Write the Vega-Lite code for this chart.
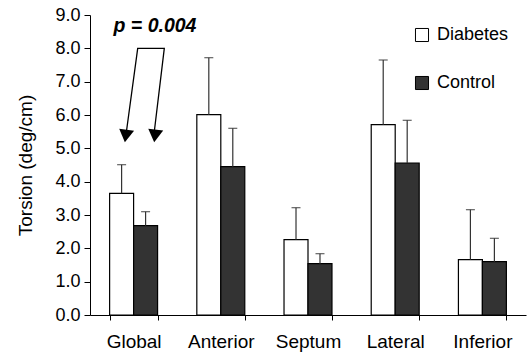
{
  "$schema": "https://vega.github.io/schema/vega-lite/v6.json",
  "width": 436,
  "height": 300,
  "autosize": "none",
  "padding": {"left": 90, "top": 15, "right": 1, "bottom": 41},
  "config": {
    "view": {"stroke": null},
    "font": "Liberation Sans",
    "axis": {"grid": false, "domainColor": "#000", "tickColor": "#000", "labelColor": "#000", "titleColor": "#000", "labelFont": "Liberation Sans", "titleFont": "Liberation Sans"},
    "axisY": {"title": "Torsion (deg/cm)", "titleFontSize": 19, "titleFontWeight": "normal", "titlePadding": 19, "values": [0,1,2,3,4,5,6,7,8,9], "format": ".1f", "labelFontSize": 18, "labelOverlap": false, "labelFlush": false, "labelBound": false, "tickSize": 6, "labelPadding": 4}
  },
  "datasets": {
    "bars": [
      {"region": "Global", "group": "Diabetes", "value": 3.65, "upper": 4.51},
      {"region": "Global", "group": "Control", "value": 2.68, "upper": 3.10},
      {"region": "Anterior", "group": "Diabetes", "value": 6.01, "upper": 7.72},
      {"region": "Anterior", "group": "Control", "value": 4.45, "upper": 5.60},
      {"region": "Septum", "group": "Diabetes", "value": 2.26, "upper": 3.22},
      {"region": "Septum", "group": "Control", "value": 1.54, "upper": 1.84},
      {"region": "Lateral", "group": "Diabetes", "value": 5.71, "upper": 7.65},
      {"region": "Lateral", "group": "Control", "value": 4.56, "upper": 5.84},
      {"region": "Inferior", "group": "Diabetes", "value": 1.66, "upper": 3.16},
      {"region": "Inferior", "group": "Control", "value": 1.60, "upper": 2.30}
    ],
    "bracket": [
      {"pos": 0.414, "level": 5.43, "order": 1},
      {"pos": 0.547, "level": 8.0, "order": 2},
      {"pos": 0.852, "level": 8.0, "order": 3},
      {"pos": 0.734, "level": 5.43, "order": 4}
    ],
    "heads": [
      {"pos": 0.41, "level": 5.37, "angle": 8},
      {"pos": 0.745, "level": 5.37, "angle": 7}
    ],
    "note": [
      {"pos": 0.745, "level": 8.68, "label": "p = 0.004"}
    ]
  },
  "layer": [
    {
      "data": {"name": "bars"},
      "encoding": {
        "x": {
          "field": "region", "type": "nominal",
          "sort": ["Global", "Anterior", "Septum", "Lateral", "Inferior"],
          "scale": {"paddingInner": 0.45, "paddingOuter": 0.225},
          "axis": {"title": null, "labelAngle": 0, "labelFontSize": 19, "labelPadding": 12, "tickBand": "extent", "tickSize": 5, "domainWidth": 1}
        },
        "xOffset": {"field": "group", "type": "nominal", "sort": ["Diabetes", "Control"]}
      },
      "layer": [
        {
          "mark": {"type": "bar", "stroke": "#000", "strokeWidth": 1.2},
          "encoding": {
            "y": {"field": "value", "type": "quantitative", "scale": {"domain": [0, 9]}, "title": "Torsion (deg/cm)"},
            "fill": {
              "field": "group", "type": "nominal",
              "sort": ["Diabetes", "Control"],
              "scale": {"domain": ["Diabetes", "Control"], "range": ["#ffffff", "#333333"]},
              "legend": {"title": null, "orient": "none", "legendX": 323, "legendY": 11, "symbolType": "square", "symbolSize": 170, "symbolStrokeColor": "#000", "symbolStrokeWidth": 1, "labelFontSize": 18, "labelColor": "#000", "rowPadding": 30, "labelOffset": 6}
            }
          }
        },
        {
          "mark": {"type": "rule", "color": "#333", "strokeWidth": 1.2},
          "encoding": {
            "y": {"field": "value", "type": "quantitative", "scale": {"domain": [0, 9]}, "title": "Torsion (deg/cm)"},
            "y2": {"field": "upper"}
          }
        },
        {
          "mark": {"type": "tick", "color": "#333", "thickness": 1.3, "size": 9, "orient": "horizontal"},
          "encoding": {
            "y": {"field": "upper", "type": "quantitative", "scale": {"domain": [0, 9]}, "title": "Torsion (deg/cm)"}
          }
        }
      ]
    },
    {
      "layer": [
        {
          "data": {"name": "bracket"},
          "mark": {"type": "line", "color": "#000", "strokeWidth": 1.3},
          "encoding": {
            "x": {"field": "pos", "type": "quantitative", "scale": {"domain": [0, 5], "nice": false, "zero": false}, "axis": null},
            "y": {"field": "level", "type": "quantitative", "scale": {"domain": [0, 9]}, "title": "Torsion (deg/cm)"},
            "order": {"field": "order"}
          }
        },
        {
          "data": {"name": "heads"},
          "mark": {"type": "point", "shape": "M-1,-0.85L1,-0.85L0,0.85Z", "filled": true, "color": "#000", "opacity": 1, "size": 225},
          "encoding": {
            "x": {"field": "pos", "type": "quantitative", "scale": {"domain": [0, 5], "nice": false, "zero": false}, "axis": null},
            "y": {"field": "level", "type": "quantitative", "scale": {"domain": [0, 9]}, "title": "Torsion (deg/cm)"},
            "angle": {"field": "angle", "type": "quantitative", "scale": null}
          }
        },
        {
          "data": {"name": "note"},
          "mark": {"type": "text", "fontSize": 19.5, "fontWeight": "bold", "fontStyle": "italic", "color": "#000", "font": "Liberation Sans"},
          "encoding": {
            "x": {"field": "pos", "type": "quantitative", "scale": {"domain": [0, 5], "nice": false, "zero": false}, "axis": null},
            "y": {"field": "level", "type": "quantitative", "scale": {"domain": [0, 9]}, "title": "Torsion (deg/cm)"},
            "text": {"field": "label"}
          }
        }
      ]
    }
  ],
  "resolve": {"scale": {"x": "independent"}}
}
